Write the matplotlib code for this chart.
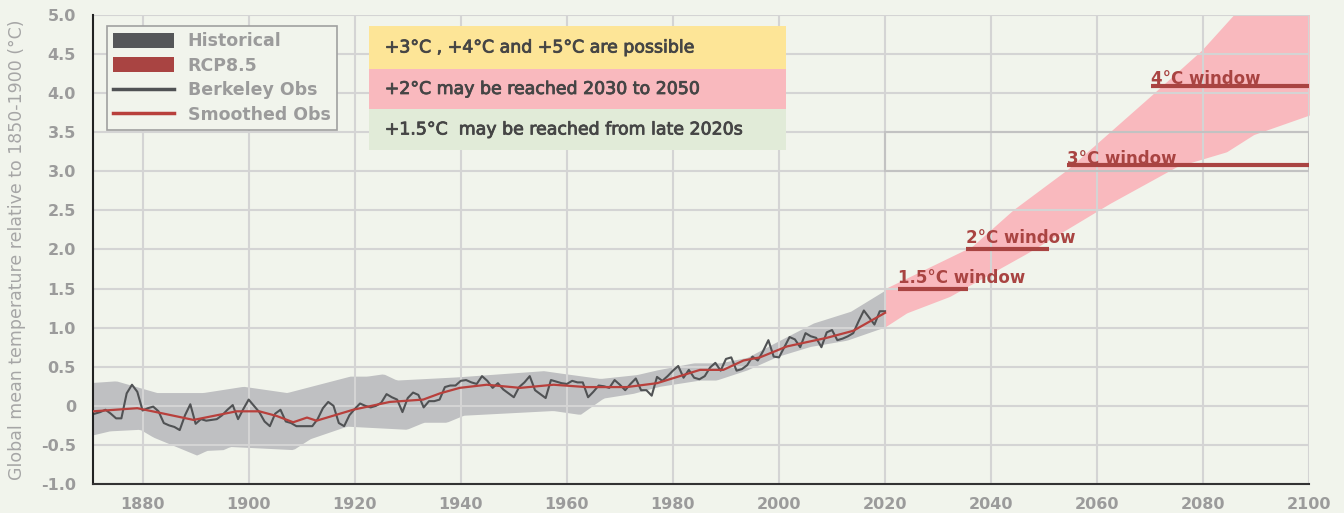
import matplotlib.pyplot as plt
import matplotlib.patheffects as pe
import numpy as np
from matplotlib.patches import Patch, Rectangle
from matplotlib.lines import Line2D
from matplotlib.ticker import FuncFormatter

plt.rcParams["font.family"] = ["DejaVu Sans"]
plt.rcParams["axes.unicode_minus"] = False

# Berkeley Earth annual anomalies, 1871-2020
obs_years = np.arange(1871, 2021)
obs_vals = [
    -0.10, -0.08, -0.05, -0.10, -0.16, -0.16, 0.16, 0.27, 0.18, -0.06,
    -0.03, -0.01, -0.07, -0.22, -0.25, -0.27, -0.31, -0.12, 0.02, -0.23,
    -0.17, -0.19, -0.18, -0.17, -0.12, -0.05, 0.01, -0.17, -0.04, 0.08,
    0.00, -0.08, -0.20, -0.26, -0.10, -0.05, -0.20, -0.22, -0.26, -0.26,
    -0.26, -0.26, -0.17, -0.03, 0.05, 0.00, -0.22, -0.26, -0.12, -0.04,
    0.03, 0.00, -0.02, 0.00, 0.04, 0.15, 0.11, 0.08, -0.08, 0.10,
    0.17, 0.14, -0.02, 0.06, 0.06, 0.08, 0.24, 0.26, 0.26, 0.32,
    0.33, 0.30, 0.28, 0.38, 0.32, 0.23, 0.29, 0.21, 0.16, 0.11,
    0.24, 0.30, 0.38, 0.20, 0.15, 0.10, 0.33, 0.31, 0.29, 0.28,
    0.32, 0.30, 0.30, 0.11, 0.18, 0.26, 0.25, 0.23, 0.33, 0.27,
    0.20, 0.28, 0.35, 0.20, 0.20, 0.13, 0.37, 0.32, 0.38, 0.45,
    0.51, 0.36, 0.46, 0.36, 0.34, 0.38, 0.49, 0.55, 0.45, 0.60,
    0.62, 0.45, 0.47, 0.52, 0.63, 0.58, 0.70, 0.84, 0.63, 0.62,
    0.75, 0.88, 0.85, 0.75, 0.93, 0.89, 0.87, 0.75, 0.94, 0.97,
    0.84, 0.86, 0.89, 0.93, 1.08, 1.22, 1.13, 1.04, 1.21, 1.21,
]

smooth_years = [1870.7, 1879, 1884, 1889.6, 1897.7, 1902, 1905.3, 1908.4, 1911, 1912.8,
                1919.7, 1926.6, 1932.9, 1936.1, 1939.8, 1944.9, 1951.2, 1957.5, 1963.7,
                1971.3, 1977, 1985.1, 1989.5, 1993.3, 1996.4, 2001.5, 2009, 2014, 2020]
smooth_vals = [-0.07, -0.03, -0.10, -0.18, -0.07, -0.07, -0.13, -0.21, -0.15, -0.19,
               -0.05, 0.05, 0.08, 0.16, 0.23, 0.27, 0.23, 0.27, 0.24,
               0.24, 0.29, 0.46, 0.46, 0.58, 0.62, 0.76, 0.87, 0.96, 1.19]

# historical uncertainty band
hist_years = [1870.7, 1875, 1882.7, 1891.4, 1899, 1907.2, 1919.1, 1922.3, 1925.4, 1927.9,
              1939.2, 1955.6, 1958.7, 1966.3, 1973.2, 1977, 1983.9, 1988.9, 1994,
              1999.6, 2006.5, 2013.5, 2020]
hist_upper = [0.30, 0.32, 0.17, 0.17, 0.25, 0.17, 0.38, 0.38, 0.41, 0.33,
              0.37, 0.45, 0.42, 0.35, 0.40, 0.46, 0.55, 0.55, 0.62,
              0.82, 1.06, 1.21, 1.48]
hist_low_years = [1870.7, 1873.8, 1879.5, 1882, 1890.2, 1892.1, 1895.2, 1896.5, 1908.4,
                  1911.6, 1918.5, 1929.8, 1933, 1937.3, 1940.5, 1957.4, 1962.5, 1966.9,
                  1972.5, 1977.5, 1985.1, 1988.2, 1994, 1999.6, 2005.9, 2012.8, 2020]
hist_lower = [-0.37, -0.32, -0.30, -0.40, -0.63, -0.57, -0.56, -0.52, -0.56,
              -0.42, -0.26, -0.30, -0.21, -0.21, -0.12, -0.06, -0.11, 0.10,
              0.16, 0.25, 0.33, 0.33, 0.46, 0.63, 0.76, 0.84, 1.01]

# RCP8.5 projection band
rcp_up_years = [2020, 2036.4, 2044.2, 2054.3, 2070, 2079.7, 2085.7, 2100]
rcp_upper = [1.50, 2.04, 2.51, 3.02, 3.96, 4.55, 5.00, 6.20]
rcp_low_years = [2020, 2024.1, 2032.2, 2046.7, 2062.4, 2075, 2084.4, 2089.5, 2100]
rcp_lower = [1.01, 1.19, 1.40, 1.95, 2.59, 3.06, 3.25, 3.47, 3.72]

# warming windows: label, level, start, end, label baseline
window_labels = ["1.5°C window", "2°C window", "3°C window", "4°C window"]
window_levels = [1.49, 2.01, 3.08, 4.09]
window_start = [2022.5, 2035.3, 2054.3, 2070.2]
window_end = [2035.7, 2051, 2100, 2100]
window_text_y = [1.575, 2.085, 3.10, 4.115]

notes = ["+3°C , +4°C and +5°C are possible",
         "+2°C may be reached 2030 to 2050",
         "+1.5°C  may be reached from late 2020s"]
note_colors = ["#fde597", "#f9b9be", "#e1ebd8"]

bg = "#f1f4ec"
grey_band = "#bfc0c2"
pink_band = "#f9b9be"
red = "#a94442"
dark = "#505254"
tick_grey = "#9b9b9b"

fig = plt.figure(figsize=(13.44, 5.13), dpi=100, facecolor=bg)
ax = fig.add_axes([0.0694, 0.0565, 0.9048, 0.9143])
ax.set_facecolor(bg)

grid_x = np.linspace(hist_years[0], 2020, 300)
ax.fill_between(grid_x, np.interp(grid_x, hist_low_years, hist_lower),
                np.interp(grid_x, hist_years, hist_upper),
                color=grey_band, lw=0, zorder=0.2)
rcp_x = np.linspace(2020, 2100, 300)
ax.fill_between(rcp_x, np.interp(rcp_x, rcp_low_years, rcp_lower),
                np.interp(rcp_x, rcp_up_years, rcp_upper),
                color=pink_band, lw=0, zorder=0.2)

ax.plot(obs_years, obs_vals, color=dark, lw=1.5, zorder=2)
ax.plot(smooth_years, smooth_vals, color="#b8403c", lw=1.6, zorder=3)

ax.add_patch(Rectangle((2020, 3.0), 80, 0.5, fill=False, edgecolor="#c2c2c2",
                       lw=1.5, zorder=0.6))

for lab, lev, x0, x1, ty in zip(window_labels, window_levels, window_start,
                                window_end, window_text_y):
    ax.hlines(lev, x0, x1, color=red, lw=3, zorder=5)
    ax.text(x0, ty, lab, color=red, fontsize=12, fontweight="bold",
            va="baseline", ha="left", zorder=4)

ax.set_xlim(1870.7, 2100)
ax.set_ylim(-1, 5)
ax.set_xticks(np.arange(1880, 2101, 20))
ax.set_yticks(np.arange(-1, 5.01, 0.5))
ax.yaxis.set_major_formatter(FuncFormatter(lambda v, p: "0" if abs(v) < 1e-9 else f"{v:.1f}"))
ax.set_axisbelow(True)
ax.grid(True, color="#d4d4d4", lw=1.5)
ax.tick_params(length=0, labelsize=11.5, labelcolor=tick_grey)
ax.tick_params(axis="x", pad=9)
ax.tick_params(axis="y", pad=12.5)
for lbl in ax.get_xticklabels() + ax.get_yticklabels():
    lbl.set_fontweight("bold")
for side in ["top", "right"]:
    ax.spines[side].set_visible(False)
ax.spines["left"].set_color("#222222")
ax.spines["bottom"].set_color("#333333")
ax.spines["left"].set_linewidth(1.5)
ax.spines["bottom"].set_linewidth(1.5)

ax.set_ylabel("Global mean temperature relative to 1850-1900 (°C)", fontsize=12.5,
              color="#a6a6a6", labelpad=11)

# annotation boxes
box_x0, box_x1 = 0.2267, 0.5697
box_edges = [0.9765, 0.8849, 0.7996, 0.7122]
for i, (txt, col) in enumerate(zip(notes, note_colors)):
    top, bot = box_edges[i], box_edges[i + 1]
    ax.add_patch(Rectangle((box_x0, bot), box_x1 - box_x0, top - bot,
                           transform=ax.transAxes, facecolor=col, lw=0, zorder=6))
    ax.text(box_x0 + 0.013, (top + bot) / 2, txt, transform=ax.transAxes,
            fontsize=12.5, color="#454545", va="center", ha="left", zorder=7,
            path_effects=[pe.withStroke(linewidth=0.6, foreground="#454545")])

handles = [Patch(facecolor="#555759", edgecolor="none"),
           Patch(facecolor=red, edgecolor="none"),
           Line2D([], [], color=dark, lw=2.5),
           Line2D([], [], color="#b8403c", lw=2.5)]
leg = ax.legend(handles, ["Historical", "RCP8.5", "Berkeley Obs", "Smoothed Obs"],
                loc="upper left", bbox_to_anchor=(0.0113, 0.9765), borderaxespad=0,
                fancybox=False, framealpha=1, facecolor=bg, edgecolor="#a0a0a0",
                fontsize=12.5, handlelength=3.5, handleheight=0.95, labelspacing=0.38,
                borderpad=0.35, handletextpad=0.8)
leg.get_frame().set_linewidth(1.2)
for t in leg.get_texts():
    t.set_color(tick_grey)
    t.set_fontweight("bold")
leg.set_zorder(8)

fig.savefig("out.png", dpi=100, facecolor=bg)
